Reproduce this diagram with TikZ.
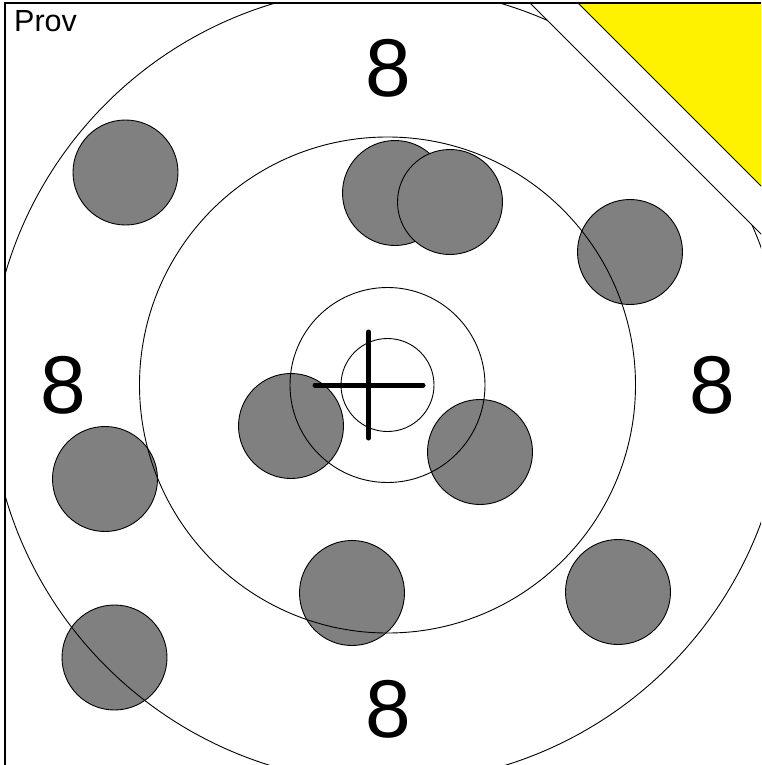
\documentclass[tikz,border=0pt]{standalone}
\usepackage{fontspec}
\setmainfont{Liberation Sans}
\usetikzlibrary{positioning}

\begin{document}
\begin{tikzpicture}[
  x=1pt,y=-1pt,
  ring/.style={draw=black,line width=0.9pt},
  hit/.style={circle,draw=black,fill=gray,line width=0.9pt,minimum size=105pt,inner sep=0pt},
  score/.style={font=\fontsize{82}{82}\selectfont,inner sep=0pt},
  wedge/.style={draw=black,line width=0.9pt}
]
\useasboundingbox (0,0) rectangle (761,765);
\begin{scope}
\clip (5,3) rectangle (761,765);
\coordinate (mid) at (387.5,385);
% shots
\node[hit] (h1) at (125.5,172.5) {};
\node[hit] (h2) at (395,193) {};
\node[hit] (h3) at (450,202) {};
\node[hit] (h4) at (630,252) {};
\node[hit] (h5) at (291,426) {};
\node[hit] (h6) at (480,452) {};
\node[hit] (h7) at (105,479) {};
\node[hit] (h8) at (352,593) {};
\node[hit] (h9) at (618,592) {};
\node[hit] (h10) at (114.5,657.5) {};
% rings
\draw[ring] (mid) circle[radius=398pt];
\draw[ring] (mid) circle[radius=248pt];
\draw[ring] (mid) circle[radius=97.5pt];
\draw[ring] (mid) circle[radius=46.5pt];
% corner
\filldraw[wedge,fill=white] (530,3) -- (800,273) -- (800,-10) -- (530,-10) -- cycle;
\filldraw[wedge,fill=yellow] (578,3) -- (800,225) -- (800,-10) -- (578,-10) -- cycle;
% aim mark
\draw[line width=5pt,line cap=round] (315,385) -- (423,385);
\draw[line width=5pt,line cap=round] (368.5,332) -- (368.5,438);
\end{scope}

\node[score] (top) at (388,68) {8};
\node[score] (left) at (63,385) {8};
\node[score] (right) at (712,385) {8};
\node[score] (bottom) at (388,709) {8};
\node[anchor=north west,inner sep=0pt,font=\fontsize{30.5}{30.5}\selectfont] (prov) at (14,10) {Prov};

\draw[line width=1.5pt] (5,765) -- (5,3) -- (761,3);
\end{tikzpicture}
\end{document}
